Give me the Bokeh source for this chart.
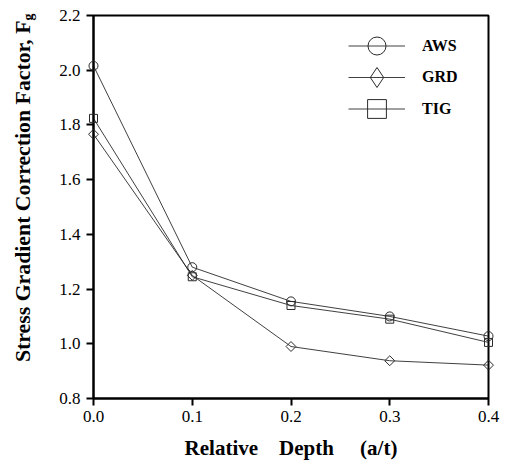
import math
from bokeh.plotting import figure
from bokeh.models import (Range1d, FixedTicker, Legend, LegendItem,
                          CustomJSTickFormatter, ColumnDataSource)
from bokeh.core.properties import value
from bokeh.embed import file_html
from bokeh.resources import INLINE

depth = [0.0, 0.1, 0.2, 0.3, 0.4]
aws = [2.016, 1.28, 1.155, 1.10, 1.028]
grd = [1.766, 1.25, 0.99, 0.938, 0.922]
tig = [1.824, 1.245, 1.14, 1.09, 1.005]
series_names = ["AWS", "GRD", "TIG"]
x_ticks = [0.0, 0.1, 0.2, 0.3, 0.4]
y_ticks = [0.8, 1.0, 1.2, 1.4, 1.6, 1.8, 2.0, 2.2]
y_title = "Stress Gradient Correction Factor, F"
y_title_sub = "g"
NB = "\u00a0"
x_title = "Relative" + NB * 4 + "Depth" + NB * 5 + "(a/t)"

SERIF = "Liberation Serif"
LINE = "#2a2a2a"

p = figure(width=506, height=460, output_backend="svg", toolbar_location=None,
           x_range=Range1d(x_ticks[0], x_ticks[-1]), y_range=Range1d(y_ticks[0], y_ticks[-1]),
           min_border_left=93, min_border_right=18, min_border_top=15, min_border_bottom=62)
p.background_fill_color = "white"
p.border_fill_color = "white"
p.outline_line_color = "black"
p.outline_line_width = 2
p.xgrid.visible = False
p.ygrid.visible = False

for ax in (p.xaxis[0], p.yaxis[0]):
    ax.axis_line_width = 2
    ax.major_tick_line_width = 2
    ax.major_tick_out = 7
    ax.major_tick_in = 0
    ax.minor_tick_line_color = None
    ax.major_label_text_font = SERIF
    ax.major_label_text_font_size = "17px"
    ax.major_label_text_color = "black"

p.xaxis.ticker = FixedTicker(ticks=x_ticks)
p.yaxis.ticker = FixedTicker(ticks=y_ticks)
p.xaxis.formatter = CustomJSTickFormatter(code="return tick.toFixed(1)")
p.yaxis.formatter = CustomJSTickFormatter(code="return tick.toFixed(1)")
p.xaxis.major_label_standoff = 5
p.yaxis.major_label_standoff = 6

# axis titles drawn as unclipped text next to the axes
x_mid = (x_ticks[0] + x_ticks[-1]) / 2
p.text(x=[x_mid], y=[y_ticks[0]], text=[x_title], y_offset=49,
       text_font=value(SERIF), text_font_style="bold", text_font_size="21px",
       text_align="center", text_baseline="middle", text_color="black", level="overlay")
p.text(x=[x_ticks[0]], y=[y_ticks[-1]], text=[y_title], angle=math.pi / 2,
       x_offset=-71, y_offset=5, text_font=value(SERIF), text_font_style="bold",
       text_font_size="21.8px", text_align="right", text_baseline="middle",
       text_color="black", level="overlay")
p.text(x=[x_ticks[0]], y=[y_ticks[-1]], text=[y_title_sub], angle=math.pi / 2,
       x_offset=-65, y_offset=5, text_font=value(SERIF), text_font_style="bold",
       text_font_size="14px", text_align="left", text_baseline="middle",
       text_color="black", level="overlay")

series = [aws, grd, tig]
markers = [("circle", 0.0, 9), ("square", math.pi / 4, 7), ("square", 0.0, 8)]
legend_marker = ["circle", "diamond", "square"]
# per-legend: glyph height (legend marker size = 0.4 * min(w, h)), location from frame bottom-left
legend_boxes = [(45, (255, 330)), (50, (255, 296)), (47, (255, 266))]

for name, vals, (mk, ang, sz), lmk, (gh, loc) in zip(series_names, series, markers,
                                                       legend_marker, legend_boxes):
    src = ColumnDataSource(dict(x=depth, y=vals))
    lr = p.line("x", "y", source=src, line_color=LINE, line_width=0.9)
    sr = p.scatter("x", "y", source=src, marker=mk, angle=ang, size=sz, line_color=LINE,
                   line_width=1, fill_alpha=0, level="overlay")
    if lmk != mk or ang != 0.0:
        # legend proxy of zero size: only its shape is used by the legend
        sr = p.scatter("x", "y", source=src, marker=lmk, size=0, line_color=LINE,
                       line_width=1, fill_alpha=0)
    lg = Legend(items=[LegendItem(label=name, renderers=[lr, sr])], location=loc,
                glyph_width=57, glyph_height=gh, spacing=0, label_standoff=17,
                padding=0, margin=0, border_line_alpha=0, background_fill_alpha=0,
                label_text_font=SERIF, label_text_font_style="bold",
                label_text_font_size="16px", label_text_color="black")
    p.add_layout(lg)

open("out.html", "w").write(file_html(p, INLINE))
